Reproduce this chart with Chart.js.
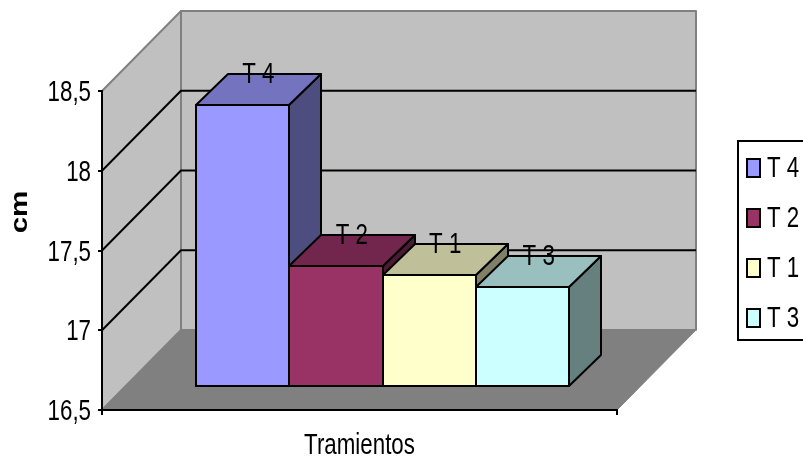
<!DOCTYPE html>
<html>
<head>
<meta charset="utf-8">
<title>Tramientos</title>
<script src="https://cdn.jsdelivr.net/npm/chart.js@4"></script>
<style>
  html, body { margin: 0; padding: 0; background: #fff; overflow: hidden; }
  canvas { display: block; }
</style>
</head>
<body>
<canvas id="chart" width="803" height="462"></canvas>
<script>
const categories = ['Tramientos'];
const seriesNames = ['T 4', 'T 2', 'T 1', 'T 3'];
const seriesValues = [18.27, 17.26, 17.2, 17.13];
const yTickLabels = ['16,5', '17', '17,5', '18', '18,5'];
const yTitle = 'cm';

const frontColors = ['#9999FF', '#993366', '#FFFFCC', '#CCFFFF'];
const topColors = ['#7373BF', '#73264D', '#BFBF99', '#99BFBF'];
const sideColors = ['#4D4D80', '#4D1A33', '#808066', '#668080'];

const FONT = '"Liberation Sans", Arial, sans-serif';
const WALL_DEPTH = 79;   // how far the back wall sits behind the axes
const BAR_SHIFT = 23;    // bars stand this far behind the front plane
const BAR_DEPTH_X = 32;
const BAR_DEPTH_Y = 31;
const TEXT_SQUEEZE = 0.77; // the original text is much narrower than it is tall
const TEXT_DROP = 2;

const canvas = document.getElementById('chart');
const ctx2d = canvas.getContext('2d');

// every label on this chart is condensed, ticks and titles included
const rawFillText = ctx2d.fillText.bind(ctx2d);
ctx2d.fillText = function (text, x, y) {
  this.save();
  this.translate(x, y + TEXT_DROP);
  this.scale(TEXT_SQUEEZE, 1);
  rawFillText(text, 0, 0);
  this.restore();
};

function fillPoly(ctx, pts, fill, stroke, lw) {
  ctx.beginPath();
  pts.forEach((p, i) => i ? ctx.lineTo(p[0], p[1]) : ctx.moveTo(p[0], p[1]));
  ctx.closePath();
  ctx.fillStyle = fill;
  ctx.fill();
  if (stroke) {
    ctx.strokeStyle = stroke;
    ctx.lineWidth = lw;
    ctx.lineJoin = 'round';
    ctx.stroke();
  }
}

// outline of a bar's front face, snapped so the 2px lines stay crisp
function frontBox(bar) {
  return {
    l: Math.round(bar.x - bar.width / 2 + BAR_SHIFT),
    r: Math.round(bar.x + bar.width / 2 + BAR_SHIFT),
    t: Math.round(bar.y - BAR_SHIFT),
    b: Math.round(bar.base - BAR_SHIFT)
  };
}

const chart3d = {
  id: 'chart3d',
  // walls, floor, gridlines, then the top and side of each bar left to right
  beforeDatasetsDraw(chart) {
    const ctx = chart.ctx;
    const { left, right } = chart.chartArea;
    const y = chart.scales.y;
    const top = y.getPixelForValue(y.max);
    const bottom = y.getPixelForValue(y.min);
    const d = WALL_DEPTH;
    ctx.save();
    fillPoly(ctx, [[left + d, top - d - 1], [right + d, top - d - 1], [right + d, bottom - d - 1], [left + d, bottom - d - 1]], '#C0C0C0', '#808080', 2);
    fillPoly(ctx, [[left, top], [left + d, top - d - 1], [left + d, bottom - d - 1], [left, bottom]], '#C0C0C0', '#808080', 2);
    fillPoly(ctx, [[left, bottom], [right, bottom], [right + d, bottom - d - 1], [left + d, bottom - d - 1]], '#808080', '#808080', 1);

    ctx.strokeStyle = '#000';
    ctx.lineWidth = 2;
    y.ticks.forEach(t => {
      if (t.value === y.min || t.value === y.max) return;
      const p = y.getPixelForValue(t.value);
      ctx.beginPath();
      ctx.moveTo(left, p);
      ctx.lineTo(left + d, p - d - 1);
      ctx.lineTo(right + d, p - d - 1);
      ctx.stroke();
    });

    const dx = BAR_DEPTH_X, dy = BAR_DEPTH_Y;
    seriesNames.forEach((name, i) => {
      const { l, r, t, b } = frontBox(chart.getDatasetMeta(i).data[0]);
      fillPoly(ctx, [[r, t], [r + dx, t - dy], [r + dx, b - dy], [r, b]], sideColors[i], '#000', 2);
      fillPoly(ctx, [[l, t], [l + dx, t - dy], [r + dx, t - dy], [r, t]], topColors[i], '#000', 2);
    });
    ctx.restore();
  },
  // front faces come from the library, just pushed back on the floor
  beforeDatasetDraw(chart) {
    chart.ctx.save();
    chart.ctx.translate(BAR_SHIFT, -BAR_SHIFT);
  },
  afterDatasetDraw(chart, args) {
    const ctx = chart.ctx;
    ctx.restore();
    const { l, r, t, b } = frontBox(chart.getDatasetMeta(args.index).data[0]);
    ctx.save();
    ctx.strokeStyle = '#000';
    ctx.lineWidth = 2;
    ctx.strokeRect(l, t, r - l, b - t);
    ctx.restore();
  },
  afterDraw(chart) {
    const ctx = chart.ctx;
    ctx.save();
    ctx.fillStyle = '#000';

    // labels on the bars
    ctx.font = '29px ' + FONT;
    ctx.textAlign = 'center';
    ctx.textBaseline = 'middle';
    seriesNames.forEach((name, i) => {
      const bar = chart.getDatasetMeta(i).data[0];
      ctx.fillText(name, bar.x + BAR_SHIFT + BAR_DEPTH_X / 2, bar.y - BAR_SHIFT - BAR_DEPTH_Y - 1);
    });

    // axis title sits above the middle of the axis, stretched along its length
    ctx.save();
    ctx.translate(20, 212);
    ctx.rotate(-Math.PI / 2);
    ctx.scale(1.23, 1);
    ctx.font = 'bold 24px ' + FONT;
    rawFillText(yTitle, 0, 0);
    ctx.restore();

    // legend box runs off the right edge like the original
    ctx.strokeStyle = '#000';
    ctx.lineWidth = 2;
    ctx.strokeRect(738, 141, 80, 199);
    ctx.textAlign = 'left';
    seriesNames.forEach((name, i) => {
      const ry = 159 + i * 50;
      ctx.fillStyle = frontColors[i];
      ctx.fillRect(747, ry, 13, 18);
      ctx.strokeRect(747, ry, 13, 18);
      ctx.fillStyle = '#000';
      ctx.fillText(name, 767, ry + 8);
    });
    ctx.restore();
  }
};

new Chart(canvas, {
  type: 'bar',
  plugins: [chart3d],
  data: {
    labels: categories,
    datasets: seriesNames.map((name, i) => ({
      label: name,
      data: [seriesValues[i]],
      base: 16.5,
      backgroundColor: frontColors[i],
      borderWidth: 0,
      barPercentage: 1,
      categoryPercentage: 0.726,
      clip: false
    }))
  },
  options: {
    responsive: false,
    animation: false,
    layout: { padding: { top: 91, right: 186, left: 0, bottom: 0 } },
    plugins: { legend: { display: false }, title: { display: false }, tooltip: { enabled: false } },
    scales: {
      x: {
        afterFit: scale => { scale.height = 52; },
        grid: { z: 1, drawOnChartArea: false, drawTicks: true, tickLength: 5, color: '#000', lineWidth: 2 },
        border: { z: 1, color: '#000', width: 2 },
        ticks: { display: false },
        title: { display: true, text: 'Tramientos', color: '#000', font: { family: FONT, size: 29 }, padding: { top: 18, bottom: 1 } }
      },
      y: {
        min: 16.5,
        max: 18.5,
        afterFit: scale => { scale.width = 102; },
        grid: { z: 1, drawOnChartArea: false, drawTicks: true, tickLength: 4, color: '#000', lineWidth: 2 },
        border: { z: 1, color: '#000', width: 2 },
        ticks: {
          stepSize: 0.5,
          padding: 7,
          color: '#000',
          font: { family: FONT, size: 29 },
          callback: (v, i) => yTickLabels[i]
        }
      }
    }
  }
});
</script>
</body>
</html>
